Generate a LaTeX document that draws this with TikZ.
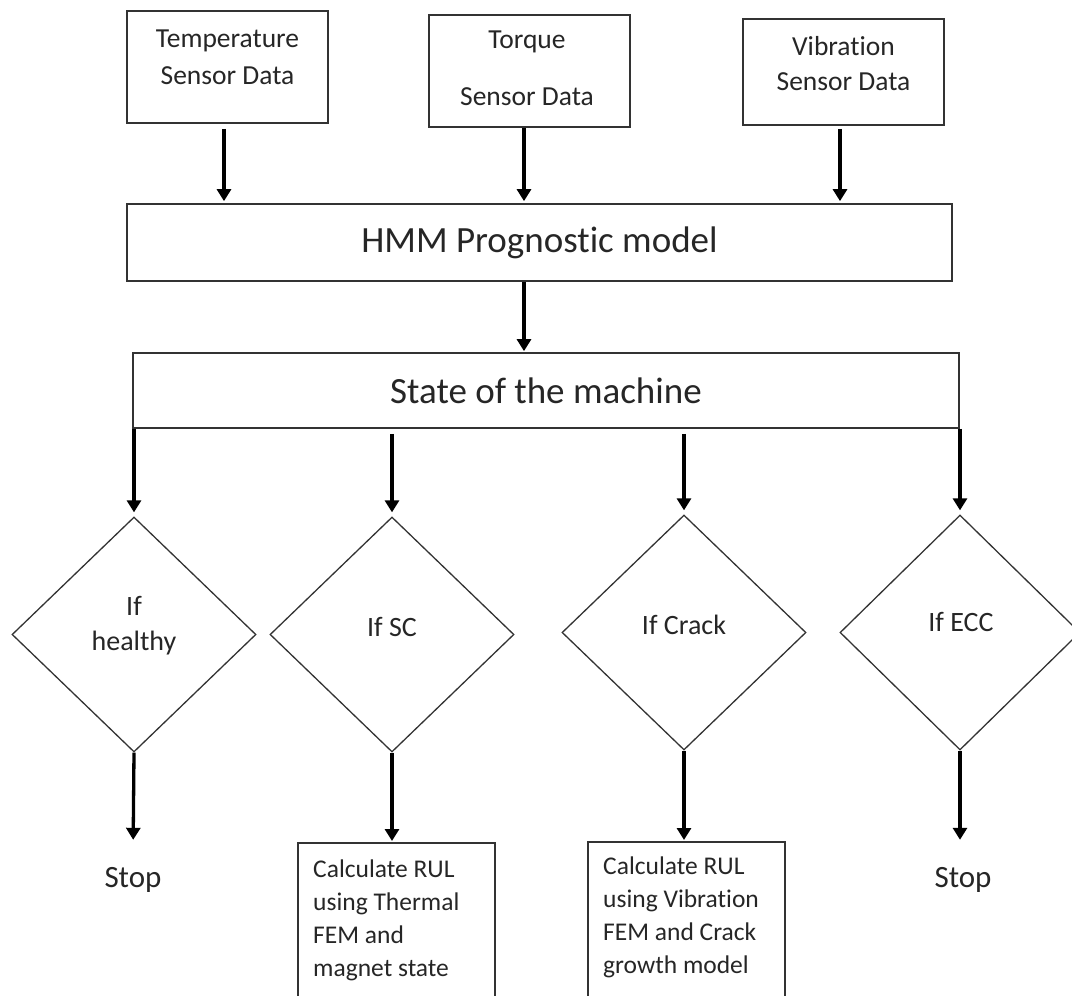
\documentclass[tikz,border=0pt]{standalone}
\usepackage{fontspec}
\setmainfont{Carlito}[Ligatures=NoCommon]
\usetikzlibrary{shapes.geometric,arrows.meta,calc}
\definecolor{boxgray}{HTML}{333333}
\definecolor{txtgray}{HTML}{262626}

\begin{document}
\begin{tikzpicture}[x=1pt,y=-1pt,
  box/.style={draw=boxgray, line width=1.7pt, rectangle, inner sep=0pt},
  dec/.style={draw=boxgray, line width=1.3pt, diamond, inner sep=0pt},
  flow/.style={line width=3.3pt, -{Triangle[width=14pt,length=12pt]}},
  txt/.style={text=txtgray, inner sep=0pt, align=center},
  small/.style={font=\fontsize{27.5pt}{37pt}\selectfont},
  big/.style={font=\fontsize{37pt}{44pt}\selectfont},
  mid/.style={font=\fontsize{28pt}{35pt}\selectfont},
  rul/.style={font=\fontsize{25.5pt}{33pt}\selectfont, align=left},
]
\useasboundingbox (0,0) rectangle (1072,996);
\clip (0,0) rectangle (1072,996);

% sensor inputs
\node[box, minimum width=201pt, minimum height=112pt] (temp) at (227.5,67) {};
\node[box, minimum width=201pt, minimum height=112pt] (tq)   at (529.5,71) {};
\node[box, minimum width=201pt, minimum height=106pt] (vib)  at (843.5,72) {};
\node[txt, small, anchor=base] (tempt1) at (227.5,47) {Temperature};
\node[txt, small, anchor=base] (tempt2) at (227.5,84) {Sensor Data};
\node[txt, small, anchor=base] (tqt1)   at (527,48) {Torque};
\node[txt, small, anchor=base] (tqt2)   at (527,105) {Sensor Data};
\node[txt, small, anchor=base] (vibt1)  at (843.5,55) {Vibration};
\node[txt, small, anchor=base] (vibt2)  at (843.5,90) {Sensor Data};

% model and state
\node[box, txt, big, minimum width=825pt, minimum height=77pt] (hmm) at (539.5,242.5) {HMM Prognostic model};
\node[box, txt, big, minimum width=826pt, minimum height=75pt] (state) at (546,390.5) {State of the machine};

% decisions
\node[dec, minimum width=244pt, minimum height=235pt] (d1) at (134,634.5) {};
\node[dec, minimum width=244pt, minimum height=235pt] (d2) at (392,634.5) {};
\node[dec, minimum width=244pt, minimum height=235pt] (d3) at (684,632.5) {};
\node[dec, minimum width=240pt, minimum height=235pt] (d4) at (960,632.5) {};
\node[txt, mid] (d1t) at (134,626) {If\\healthy};
\node[txt, mid] (d2t) at (392,627) {If SC};
\node[txt, mid] (d3t) at (684,625) {If Crack};
\node[txt, mid] (d4t) at (961,622) {If ECC};

% outcomes
\node[txt, font=\fontsize{31pt}{36pt}\selectfont, anchor=base, text height=27pt] (stop1) at (133,887) {Stop};
\node[txt, font=\fontsize{31pt}{36pt}\selectfont, anchor=base, text height=27pt] (stop2) at (963,887) {Stop};
\node[box, anchor=north west, minimum width=197pt, minimum height=200pt] (rul1) at (297,842) {};
\node[box, anchor=north west, minimum width=197pt, minimum height=200pt] (rul2) at (587,841) {};
\node[txt, rul, anchor=north west] (rul1t) at (313,860) {Calculate RUL\\using Thermal\\FEM and\\magnet state};
\node[txt, rul, anchor=north west] (rul2t) at (603,857) {Calculate RUL\\using Vibration\\FEM and Crack\\growth model};

% connectors
\draw[flow, shorten >=2pt] ([shift={(-3.5,5)}]temp.south) -- ([xshift=-3.5pt]temp.south |- hmm.north);
\draw[flow, shorten >=2pt] ([shift={(-5.5,0)}]tq.south) -- ([xshift=-5.5pt]tq.south |- hmm.north);
\draw[flow, shorten >=2pt] ([shift={(-3.5,3)}]vib.south) -- ([xshift=-3.5pt]vib.south |- hmm.north);
\draw[flow, shorten >=1pt] ([xshift=-5.5pt]tq.south |- hmm.south) -- ([xshift=-5.5pt]tq.south |- state.north);

\draw[line width=1.7pt, draw=boxgray] (state.south west) -- (d1.north |- state.south);
\draw[flow, shorten >=4pt] (d1.north |- state.south) -- (d1.north);
\draw[flow, shorten >=4pt] ([yshift=-5pt]d2.north |- state.south) -- (d2.north);
\draw[flow, shorten >=4pt] ([yshift=-5pt]d3.north |- state.south) -- (d3.north);
\draw[flow, shorten >=4pt] (d4.north |- state.south) -- (d4.north);

\draw[flow, shorten >=20pt] (d1.south) -- (stop1.north);
\draw[flow, shorten >=1pt] (d2.south) -- (d2.south |- rul1.north);
\draw[flow, shorten >=1pt] (d3.south) -- (d3.south |- rul2.north);
\draw[flow, shorten >=20pt] (d4.south) -- (d4.south |- stop2.north);
\end{tikzpicture}
\end{document}
